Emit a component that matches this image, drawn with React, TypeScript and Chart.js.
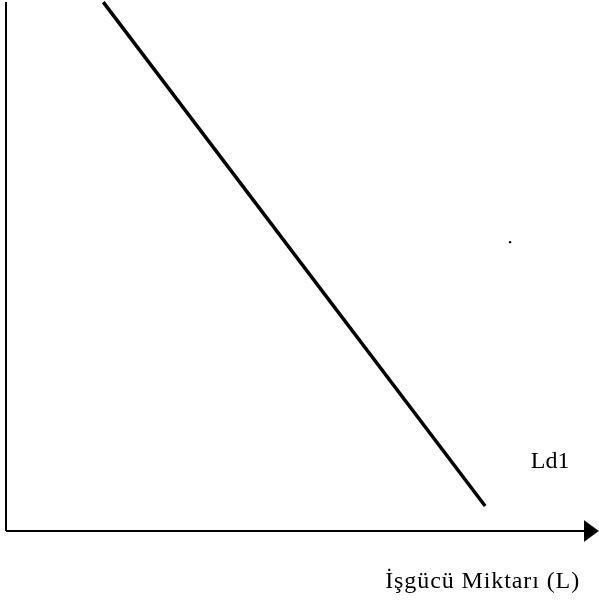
import React, { useEffect, useRef } from "react";
import { Chart, registerables } from "chart.js";

Chart.register(...registerables);

// Demand curve Ld1 (axis units: 0..100)
const curveX = [16.4, 80.8];
const curveY = [99.6, 4.7];

// Axes drawn as data
const yAxisX = [0, 0];
const yAxisY = [0, 99.6];
const xAxisX = [0, 97.8];
const xAxisY = [0, 0];
const arrowX = [98.7];
const arrowY = [0];

// stray dot in the original
const dotX = [85.0];
const dotY = [54.4];

// Text labels
const labelTexts = ["Ld1", "İşgücü Miktarı (L)"];
const labelX = [88.5, 96.8];
const labelY = [11.9, -10.7];
const labelAlign = ["left", "right"];

const pts = (xs: number[], ys: number[]) => xs.map((x, i) => ({ x, y: ys[i] }));

function makeArrow() {
  const c = document.createElement("canvas");
  c.width = 15;
  c.height = 22;
  const g = c.getContext("2d")!;
  g.fillStyle = "#000";
  g.beginPath();
  g.moveTo(0, 0);
  g.lineTo(15, 11);
  g.lineTo(0, 22);
  g.closePath();
  g.fill();
  return c;
}

const labelPlugin = {
  id: "textLabels",
  afterDraw(chart: any) {
    const ctx = chart.ctx;
    const xs = chart.scales.x;
    const ys = chart.scales.y;
    ctx.save();
    ctx.fillStyle = "#000";
    ctx.font = '24px "Liberation Serif", "Times New Roman", serif';
    ctx.textBaseline = "alphabetic";
    labelTexts.forEach((t, i) => {
      ctx.textAlign = labelAlign[i];
      (ctx as any).letterSpacing = i === 1 ? "0.9px" : "0px";
      ctx.fillText(t, xs.getPixelForValue(labelX[i]), ys.getPixelForValue(labelY[i]));
    });
    ctx.restore();
  },
};

export default function App() {
  const ref = useRef<HTMLCanvasElement | null>(null);
  useEffect(() => {
    document.body.style.margin = "0";
    const arrow = makeArrow();
    const chart = new Chart(ref.current!, {
      type: "scatter",
      data: {
        datasets: [
          {
            data: pts(curveX, curveY),
            showLine: true,
            borderColor: "#000",
            borderWidth: 3.5,
            pointRadius: 0,
            clip: false as any,
          },
          {
            data: pts(yAxisX, yAxisY),
            showLine: true,
            borderColor: "#000",
            borderWidth: 2,
            pointRadius: 0,
            clip: false as any,
          },
          {
            data: pts(xAxisX, xAxisY),
            showLine: true,
            borderColor: "#000",
            borderWidth: 2,
            pointRadius: 0,
            clip: false as any,
          },
          {
            data: pts(arrowX, arrowY),
            pointStyle: arrow as any,
            pointRadius: 8,
            clip: false as any,
          },
          {
            data: pts(dotX, dotY),
            pointRadius: 1.2,
            pointBackgroundColor: "#000",
            pointBorderWidth: 0,
            clip: false as any,
          },
        ],
      },
      options: {
        responsive: false,
        animation: false,
        layout: { autoPadding: false, padding: { left: 6, top: 0, right: 0, bottom: 69 } },
        plugins: { legend: { display: false }, tooltip: { enabled: false } },
        events: [],
        scales: {
          x: { type: "linear", min: 0, max: 100, display: false },
          y: { type: "linear", min: 0, max: 100, display: false },
        },
      },
      plugins: [labelPlugin],
    });
    return () => chart.destroy();
  }, []);
  return (
    <div style={{ width: 599, height: 600, background: "#fff" }}>
      <canvas ref={ref} width={599} height={600} style={{ display: "block" }} />
    </div>
  );
}
